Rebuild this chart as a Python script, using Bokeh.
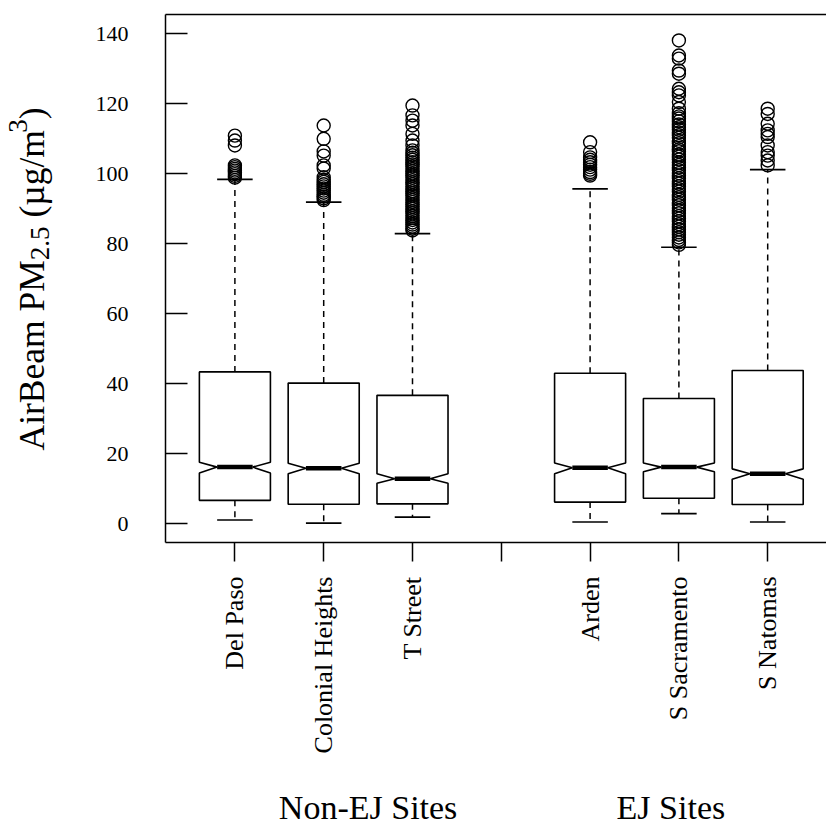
import math
from bokeh.plotting import figure
from bokeh.models import Range1d, FixedTicker, LinearAxis
from bokeh.layouts import row, column
from bokeh.core.properties import value
from bokeh.embed import file_html
from bokeh.resources import INLINE

# ---------------- data ----------------
sites = ["Del Paso", "Colonial Heights", "T Street", "Arden", "S Sacramento", "S Natomas"]
positions = [1, 2, 3, 5, 6, 7]
lower_whisker = [1.1, 0.2, 1.9, 0.5, 2.9, 0.5]
q1 = [6.7, 5.6, 5.7, 6.2, 7.3, 5.5]
notch_lo = [14.5, 14.3, 11.6, 14.3, 14.9, 12.7]
median = [16.2, 15.9, 12.9, 16.0, 16.2, 14.3]
notch_hi = [17.6, 17.3, 14.3, 17.4, 17.4, 15.7]
q3 = [43.4, 40.2, 36.7, 43.0, 35.8, 43.8]
upper_whisker = [98.4, 91.9, 82.9, 95.7, 79.0, 101.2]

out_del_paso = [110.9, 109.5, 108.1, 102.4, 101.9, 101.4, 100.9, 100.4, 99.9, 99.4, 98.9]
out_colonial = [113.8, 110.0, 106.4, 105.2, 102.4, 101.5, 99.0, 98.3, 97.7, 97.0, 96.4,
                95.8, 95.2, 94.6, 94.0, 93.5, 93.0, 92.5]
out_t_street = [119.5, 116.7, 115.2, 113.8, 111.4, 109.5, 108.1, 106.7, 106.0, 105.3, 104.6,
                104.0, 103.3, 102.7, 102.1, 101.4, 100.8, 100.1, 99.5, 98.9, 98.2, 97.6,
                97.0, 96.3, 95.7, 95.0, 94.4, 93.8, 93.1, 92.5, 91.9, 91.2, 90.6, 90.0,
                89.3, 88.7, 88.0, 87.4, 86.8, 86.1, 85.5, 84.9, 84.3, 83.8]
out_arden = [109.0, 106.2, 104.7, 104.0, 103.3, 102.6, 101.9, 101.2, 100.5, 100.0, 99.5]
out_s_sacramento = [138.1, 133.8, 132.9, 129.5, 128.6, 124.3, 123.3, 122.4, 120.5, 118.6,
                    117.3, 116.4, 115.8, 115.0, 114.1, 113.3, 112.6, 111.8, 111.0, 110.3,
                    109.4, 108.7, 107.9, 107.0, 106.4, 105.5, 104.9, 104.1, 103.2, 102.5,
                    101.8, 101.0, 100.2, 99.5, 98.7, 97.9, 97.2, 96.4, 95.6, 94.9, 94.0,
                    93.3, 92.6, 91.7, 91.0, 90.2, 89.5, 88.7, 87.9, 87.2, 86.4, 85.6, 84.9,
                    84.1, 83.3, 82.6, 81.8, 81.1, 80.4, 79.7]
out_s_natomas = [118.6, 117.1, 114.3, 112.4, 111.4, 110.5, 108.1, 106.2, 105.2, 103.8, 102.4]
outliers = [out_del_paso, out_colonial, out_t_street, out_arden, out_s_sacramento, out_s_natomas]

y_ticks = [0, 20, 40, 60, 80, 100, 120, 140]
group_names = ["Non-EJ Sites", "EJ Sites"]
group_centers = [2.5, 5.91]

# ---------------- geometry ----------------
W_CANVAS, H_CANVAS = 826, 826
LEFT_W = 60                 # strip holding the y title
BOTTOM_H = 60               # strip holding the group labels
MAIN_W = W_CANVAS - LEFT_W
MAIN_H = H_CANVAS - BOTTOM_H
FRAME_LEFT, FRAME_TOP, FRAME_BOTTOM = 165, 14, 542
X0, PXU = 0.2185, 88.8
X1 = X0 + (W_CANVAS - FRAME_LEFT) / PXU
Y0, Y1 = -5.34, 145.51
FONT = "Liberation Serif"
BOXW = 0.4
NOTCHW = 0.2
BASELINE_FIX = 10           # text glyphs render ~10 px below their anchor

xr = Range1d(X0, X1)

p = figure(width=MAIN_W, height=MAIN_H, output_backend="svg", toolbar_location=None,
           x_range=xr, y_range=Range1d(Y0, Y1),
           min_border_left=FRAME_LEFT - LEFT_W, min_border_top=FRAME_TOP,
           min_border_bottom=MAIN_H - FRAME_BOTTOM, min_border_right=0,
           background_fill_color="white", border_fill_color="white")
p.title = None
p.outline_line_color = None
p.xgrid.visible = False
p.ygrid.visible = False

ya = p.yaxis[0]
ya.ticker = FixedTicker(ticks=y_ticks)
ya.axis_line_width = 1.5
ya.major_tick_line_width = 1.5
ya.major_tick_in = 22
ya.major_tick_out = 0
ya.minor_tick_in = 0
ya.minor_tick_out = 0
ya.major_label_standoff = 37
ya.major_label_text_font = FONT
ya.major_label_text_font_size = "22px"
ya.major_label_text_color = "black"

xa = p.xaxis[0]
xa.ticker = FixedTicker(ticks=[1, 2, 3, 4, 5, 6, 7])
overrides = {int(pos): name for pos, name in zip(positions, sites)}
overrides[4] = ""
xa.major_label_overrides = overrides
xa.major_label_orientation = math.pi / 2
xa.axis_line_width = 1.5
xa.major_tick_line_width = 1.5
xa.major_tick_in = 0
xa.major_tick_out = 19
xa.minor_tick_in = 0
xa.minor_tick_out = 0
xa.major_label_standoff = 15
xa.major_label_text_font = FONT
xa.major_label_text_font_size = "26px"
xa.major_label_text_color = "black"

top = LinearAxis(ticker=FixedTicker(ticks=[]), major_label_text_font_size="0px",
                 major_tick_in=0, major_tick_out=0, minor_tick_in=0, minor_tick_out=0,
                 major_label_standoff=0, axis_line_width=1.5)
p.add_layout(top, "above")

# boxes
xs, ys = [], []
for pos, a, nl, m, nh, b in zip(positions, q1, notch_lo, median, notch_hi, q3):
    l, r = pos - BOXW, pos + BOXW
    xs.append([l, l, pos - NOTCHW, l, l, r, r, pos + NOTCHW, r, r])
    ys.append([a, nl, m, nh, b, b, nh, m, nl, a])
p.patches(xs, ys, fill_color="white", line_color="black", line_width=1.6)

p.segment(x0=positions, y0=q3, x1=positions, y1=upper_whisker,
          line_color="black", line_width=1.5, line_dash="6 5")
p.segment(x0=positions, y0=q1, x1=positions, y1=lower_whisker,
          line_color="black", line_width=1.5, line_dash="6 5")
p.segment(x0=[q - NOTCHW for q in positions], y0=upper_whisker,
          x1=[q + NOTCHW for q in positions], y1=upper_whisker, line_color="black", line_width=1.6)
p.segment(x0=[q - NOTCHW for q in positions], y0=lower_whisker,
          x1=[q + NOTCHW for q in positions], y1=lower_whisker, line_color="black", line_width=1.6)
p.segment(x0=[q - NOTCHW for q in positions], y0=median,
          x1=[q + NOTCHW for q in positions], y1=median, line_color="black", line_width=4.5)

ox, oy = [], []
for pos, vals in zip(positions, outliers):
    ox.extend([pos] * len(vals))
    oy.extend(vals)
p.scatter(ox, oy, marker="circle", size=13, fill_color=None, line_color="black", line_width=1.4)


def strip(width, height, x_range, y_range, border_left=0):
    f = figure(width=width, height=height, output_backend="svg", toolbar_location=None,
               x_range=x_range, y_range=y_range, x_axis_type=None, y_axis_type=None,
               min_border_left=border_left, min_border_right=0, min_border_top=0,
               min_border_bottom=0, background_fill_color="white", border_fill_color="white")
    f.title = None
    f.outline_line_color = None
    f.xgrid.visible = False
    f.ygrid.visible = False
    return f


# bottom strip: group labels (shares x scale with the main plot)
bot = strip(MAIN_W, BOTTOM_H, xr, Range1d(0, BOTTOM_H), border_left=FRAME_LEFT - LEFT_W)
bot.text(x=group_centers, y=[H_CANVAS - 817 + BASELINE_FIX] * len(group_centers),
         text=group_names, text_font=value(FONT), text_font_size="34px", text_align="center",
         text_baseline="alphabetic", text_color="black")

# left strip: y title with subscript / superscript (pixel coordinates, y upward)
left = strip(LEFT_W, H_CANVAS, Range1d(0, LEFT_W), Range1d(0, H_CANVAS))
TW = {"A": 722, "i": 278, "r": 333, "B": 667, "e": 444, "a": 444, "m": 778, " ": 250,
      "P": 556, "M": 889, "2": 500, ".": 250, "5": 500, "(": 333, ")": 333, "µ": 500,
      "g": 500, "/": 278, "3": 500}


def tw(s, size):
    return sum(TW[ch] for ch in s) * size / 1000.0


S, SS = 35.5, 27
pieces = [("AirBeam PM", S, 0, 0), ("2.5", SS, 8, 0), ("(µg/m", S, 0, tw(" ", S)),
          ("3", SS, -14, 0), (")", S, 0, 0)]
base_px = 41.5 - BASELINE_FIX
cur_py = 450.0
for txt, size, shift, gap in pieces:
    cur_py -= gap
    left.text(x=[base_px + shift], y=[H_CANVAS - cur_py], text=[txt], angle=math.pi / 2,
              text_font=value(FONT), text_font_size=f"{size}px", text_align="left",
              text_baseline="alphabetic", text_color="black")
    cur_py -= tw(txt, size)

layout = row(left, column(p, bot, spacing=0), spacing=0)
open("out.html", "w").write(file_html(layout, INLINE))
